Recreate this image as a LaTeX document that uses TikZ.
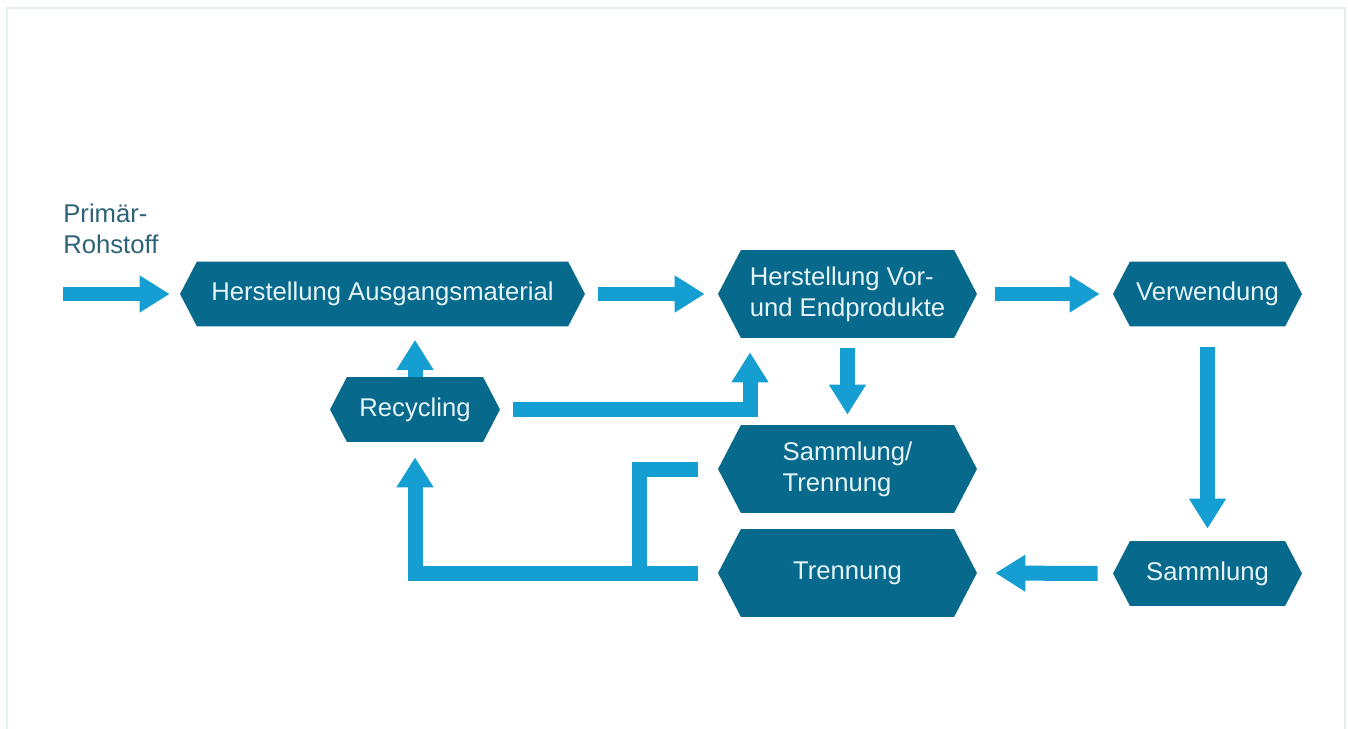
\documentclass[tikz,border=0pt]{standalone}
\usepackage{fontspec}
\setmainfont{Liberation Sans}
\usepackage{xcolor}
\usepackage{tikz}
\usetikzlibrary{shapes,shapes.symbols,arrows.meta,positioning,calc}
\definecolor{loopTeal}{HTML}{07698C}
\definecolor{loopSky}{HTML}{149ED2}
\definecolor{loopText}{HTML}{E6F4F8}
\definecolor{loopInk}{HTML}{2E6276}
\definecolor{loopFrame}{HTML}{E3EFEF}
\newcommand{\hexfont}{\fontsize{14.6}{17.5}\selectfont}

\begin{document}
\begin{tikzpicture}[
  x=0.02cm,y=-0.02cm,
  hexa/.style={signal,signal to=west and east,signal pointer angle=125,
               fill=loopTeal,text=loopText,inner sep=0pt,
               minimum width=#1,minimum height=1.3cm,
               align=left,font=\hexfont},
  flow/.style={-{Triangle[width=0.7cm,length=0.6cm]},line width=0.3cm,color=loopSky},
  pipe/.style={line width=0.3cm,color=loopSky}
]
\useasboundingbox (0,0) rectangle (1348,729);
% Frame
\draw[loopFrame,line width=0.05cm] (7,729) |- (1345,8) -- (1345,729);
% Top row
\node[align=left,anchor=north west,inner sep=0pt,text=loopInk,font=\hexfont]
  (prim) at (63,204) {Primär-\\Rohstoff};
\coordinate (src) at (63,294);
\node[hexa=8.1cm] (ausg) at (382.5,294) {Herstellung Ausgangsmaterial};
\node[hexa=5.18cm,minimum height=1.76cm] (prod) at (847.5,294)
  {Herstellung Vor-\\und Endprodukte};
\node[hexa=3.78cm] (verw) at (1207.5,294) {Verwendung};
% Lower rows
\node[hexa=3.4cm] (recy) at (415,409.5) {Recycling};
\node[hexa=5.18cm,minimum height=1.76cm] (samtr) at (847.5,469)
  {Sammlung/\\Trennung};
\node[hexa=5.18cm,minimum height=1.76cm] (tren) at (847.5,573) {Trennung};
\node[hexa=3.78cm] (samm) at (1207.5,573.5) {Sammlung};
% Arrows
\draw[flow,shorten >=0.2cm] (src) -- (ausg.west);
\draw[flow,shorten <=0.26cm,shorten >=0.26cm] (ausg.east) -- (prod.west);
\draw[flow,shorten <=0.36cm,shorten >=0.26cm] (prod.east) -- (verw.west);
\draw[flow,shorten <=0.4cm,shorten >=0.24cm] (verw.south) -- (samm.north);
\draw[flow,shorten <=0.3cm,shorten >=0.36cm] (samm.west) -- (tren.east);
\draw[flow,shorten <=0.2cm,shorten >=0.2cm] (prod.south) -- (samtr.north);
\draw[flow,shorten >=0.26cm] (recy.north) -- (recy.north |- ausg.south);
\draw[flow,shorten <=0.26cm,shorten >=0.28cm] (recy.east) -| ($(prod.south)+(-97.5,0)$);
\draw[flow,shorten <=0.4cm,shorten >=0.3cm] (tren.west) -| (recy.south);
\draw[pipe,shorten <=0.4cm] (samtr.west) -| ($(tren.west)+(-78,0)$);
\end{tikzpicture}
\end{document}
